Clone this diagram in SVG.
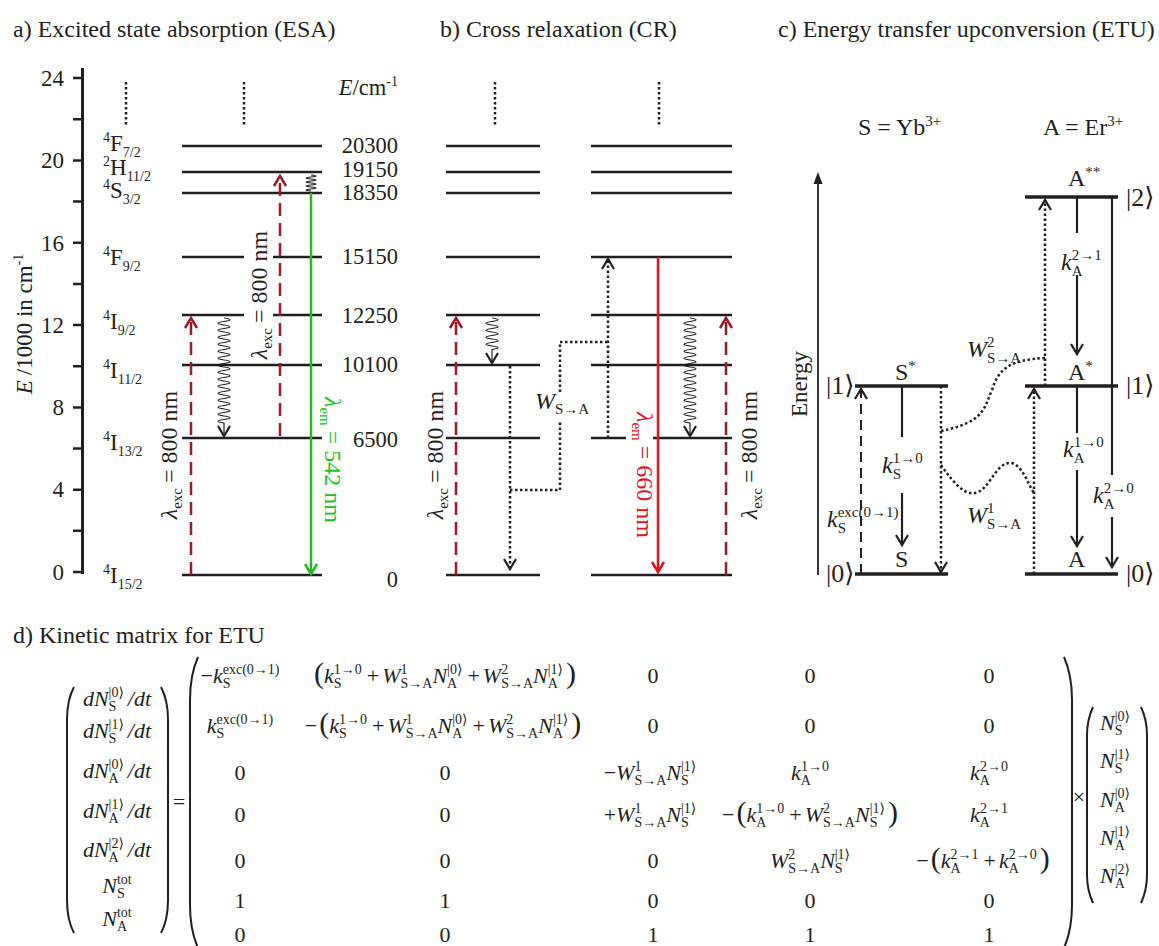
<svg xmlns="http://www.w3.org/2000/svg" width="1159" height="946" viewBox="0 0 1159 946">
<style>
text{font-family:"Liberation Serif","DejaVu Serif",serif;fill:#231F20}
.i{font-style:italic}
.gr{fill:#1FBF1F}
.rd{fill:#E3101F}
.m{font-size:22px}
.ms{font-size:14px}
.p{font-size:30px}
.lv{stroke:#231F20;stroke-width:2.6;fill:none}
.lc{stroke:#231F20;stroke-width:3.5;fill:none}
.ax{stroke:#231F20;stroke-width:3;fill:none}
.tk{stroke:#231F20;stroke-width:2.5;fill:none}
.dr{stroke:#9A1B2A;stroke-width:2.5;stroke-dasharray:13 7;fill:none}
.dk{stroke:#231F20;stroke-width:2;stroke-dasharray:10 6;fill:none}
.dt{stroke:#231F20;stroke-width:2.5;stroke-dasharray:2.5 2.5;fill:none}
.sl{stroke:#231F20;stroke-width:2.2;fill:none}
.wv{stroke:#231F20;stroke-width:1.2;fill:none}
.br{stroke:#231F20;stroke-width:2;fill:none}
</style>
<defs>
<marker id="mk" markerUnits="userSpaceOnUse" orient="auto" overflow="visible"><path d="M-10,-6L0,0L-10,6" fill="none" stroke="#231F20" stroke-width="2.2"/></marker>
<marker id="mdr" markerUnits="userSpaceOnUse" orient="auto" overflow="visible"><path d="M-10,-6L0,0L-10,6" fill="none" stroke="#9A1B2A" stroke-width="2.5"/></marker>
<marker id="mg" markerUnits="userSpaceOnUse" orient="auto" overflow="visible"><path d="M-10,-6L0,0L-10,6" fill="none" stroke="#1FBF1F" stroke-width="2.5"/></marker>
<marker id="mr" markerUnits="userSpaceOnUse" orient="auto" overflow="visible"><path d="M-10,-6L0,0L-10,6" fill="none" stroke="#E3101F" stroke-width="2.5"/></marker>
</defs>

<g id="titles" font-size="24">
<text x="13" y="37" font-size="24">a) Excited state absorption (ESA)</text>
<text x="440" y="37" font-size="24">b) Cross relaxation (CR)</text>
<text x="778" y="37" font-size="24">c) Energy transfer upconversion (ETU)</text>
<text x="13" y="643" font-size="24">d) Kinetic matrix for ETU</text>
</g>

<!-- Panel a -->
<g id="axis-a">
<path class="ax" d="M82.5,68V574"/>
<path class="tk" d="M73,572H82M73,530.8H82M73,489.7H82M73,448.5H82M73,407.4H82M73,366.2H82M73,325H82M73,283.9H82M73,242.7H82M73,201.6H82M73,160.4H82M73,119.2H82M73,78.1H82"/>
<g font-size="23" text-anchor="end">
<text x="64" y="86">24</text><text x="64" y="168">20</text><text x="64" y="251">16</text><text x="64" y="333">12</text><text x="64" y="415">8</text><text x="64" y="497">4</text><text x="64" y="580">0</text>
</g>
<text transform="translate(32,324) rotate(-90)" text-anchor="middle" font-size="23"><tspan class="i">E</tspan><tspan dx="5">/1000 in cm</tspan><tspan font-size="14" dy="-9">-1</tspan></text>
</g>

<g id="levels-a">
<path class="lv" d="M182,146H322M182,172H322M182,193H322M182,257H322M182,315H322M182,365H322M182,438H322M182,575H322"/>
<path class="dt" d="M126,82V125M244,82V125"/>
</g>
<g id="labels-a" font-size="23">
<text x="103" y="151"><tspan font-size="14" dy="-9">4</tspan><tspan dy="9">F</tspan><tspan font-size="14" dy="6">7/2</tspan></text>
<text x="103" y="175"><tspan font-size="14" dy="-9">2</tspan><tspan dy="9">H</tspan><tspan font-size="14" dy="6">11/2</tspan></text>
<text x="103" y="198"><tspan font-size="14" dy="-9">4</tspan><tspan dy="9">S</tspan><tspan font-size="14" dy="6">3/2</tspan></text>
<text x="103" y="265"><tspan font-size="14" dy="-9">4</tspan><tspan dy="9">F</tspan><tspan font-size="14" dy="6">9/2</tspan></text>
<text x="103" y="329"><tspan font-size="14" dy="-9">4</tspan><tspan dy="9">I</tspan><tspan font-size="14" dy="6">9/2</tspan></text>
<text x="103" y="378"><tspan font-size="14" dy="-9">4</tspan><tspan dy="9">I</tspan><tspan font-size="14" dy="6">11/2</tspan></text>
<text x="103" y="450"><tspan font-size="14" dy="-9">4</tspan><tspan dy="9">I</tspan><tspan font-size="14" dy="6">13/2</tspan></text>
<text x="103" y="583"><tspan font-size="14" dy="-9">4</tspan><tspan dy="9">I</tspan><tspan font-size="14" dy="6">15/2</tspan></text>
<g text-anchor="end" font-size="22.5">
<text x="398" y="95"><tspan class="i">E</tspan><tspan>/cm</tspan><tspan font-size="14" dy="-9">-1</tspan></text>
<text x="398" y="153">20300</text>
<text x="398" y="177">19150</text>
<text x="398" y="200">18350</text>
<text x="398" y="264">15150</text>
<text x="398" y="323">12250</text>
<text x="398" y="372">10100</text>
<text x="398" y="447">6500</text>
<text x="398" y="587">0</text>
</g>
</g>
<g id="connectors-a">
<path class="dr" d="M191,575V318" marker-end="url(#mdr)"/>
<path class="dr" d="M280,436V176" marker-end="url(#mdr)"/>
<path d="M311,193V574" stroke="#1FBF1F" stroke-width="2.5" fill="none" marker-end="url(#mg)"/>
<path class="wv" d="M224,318q12,1.75 0,3.5t0,3.5t0,3.5t0,3.5t0,3.5t0,3.5t0,3.5t0,3.5t0,3.5t0,3.5t0,3.5t0,3.5t0,3.5t0,3.5t0,3.5t0,3.5t0,3.5t0,3.5t0,3.5t0,3.5t0,3.5t0,3.5t0,3.5t0,3.5t0,3.5t0,3.5t0,3.5t0,3.5t0,3.5t0,3.5V436" marker-end="url(#mk)"/>
<path class="wv" d="M311,175q10,1 0,2t0,2t0,2t0,2t0,2t0,2t0,2t0,2"/>
</g>
<g id="wlabels-a">
<rect x="244" y="227" width="29" height="136" fill="#fff"/>
<text transform="translate(177,455) rotate(-90)" text-anchor="middle" font-size="24"><tspan class="i">λ</tspan><tspan font-size="15" dy="5">exc</tspan><tspan dx="5" dy="-5">= 800 nm</tspan></text>
<text transform="translate(267,295) rotate(-90)" text-anchor="middle" font-size="24"><tspan class="i">λ</tspan><tspan font-size="15" dy="5">exc</tspan><tspan dx="5" dy="-5">= 800 nm</tspan></text>
<text class="gr" transform="translate(325,460) rotate(90)" text-anchor="middle" font-size="24"><tspan class="i">λ</tspan><tspan font-size="15" dy="5">em</tspan><tspan dx="5" dy="-5">= 542 nm</tspan></text>
</g>

<!-- Panel b -->
<g id="levels-b">
<path class="lv" d="M446,146H540M446,172H540M446,193H540M446,257H540M446,315H540M446,365H540M446,438H540M446,575H540"/>
<path class="lv" d="M591,146H732M591,172H732M591,193H732M591,257H732M591,315H732M591,365H732M591,438H626M653,438H732M591,575H732"/>
<path class="dt" d="M495,82V125M659,82V125"/>
</g>
<g id="connectors-b">
<path class="dr" d="M456,575V318" marker-end="url(#mdr)"/>
<path class="dr" d="M726,575V318" marker-end="url(#mdr)"/>
<path class="wv" d="M492,318q12,1.75 0,3.5t0,3.5t0,3.5t0,3.5t0,3.5t0,3.5t0,3.5t0,3.5t0,3.5V363" marker-end="url(#mk)"/>
<path class="wv" d="M690,318q12,1.75 0,3.5t0,3.5t0,3.5t0,3.5t0,3.5t0,3.5t0,3.5t0,3.5t0,3.5t0,3.5t0,3.5t0,3.5t0,3.5t0,3.5t0,3.5t0,3.5t0,3.5t0,3.5t0,3.5t0,3.5t0,3.5t0,3.5t0,3.5t0,3.5t0,3.5t0,3.5t0,3.5t0,3.5t0,3.5t0,3.5V436" marker-end="url(#mk)"/>
<path class="dt" d="M510,366V569" marker-end="url(#mk)"/>
<path class="dt" d="M510,490H560V421M560,392V342H608"/>
<path class="dt" d="M608,438V259" marker-end="url(#mk)"/>
<path d="M658,257V572" stroke="#E3101F" stroke-width="2.5" fill="none" marker-end="url(#mr)"/>
</g>
<g id="labels-b">
<text x="535" y="409" font-size="24"><tspan class="i">W</tspan><tspan font-size="15" dy="5">S→A</tspan></text>
<text transform="translate(443,455) rotate(-90)" text-anchor="middle" font-size="24"><tspan class="i">λ</tspan><tspan font-size="15" dy="5">exc</tspan><tspan dx="5" dy="-5">= 800 nm</tspan></text>
<text transform="translate(757,455) rotate(-90)" text-anchor="middle" font-size="24"><tspan class="i">λ</tspan><tspan font-size="15" dy="5">exc</tspan><tspan dx="5" dy="-5">= 800 nm</tspan></text>
<text class="rd" transform="translate(637,475) rotate(90)" text-anchor="middle" font-size="24"><tspan class="i">λ</tspan><tspan font-size="15" dy="5">em</tspan><tspan dx="5" dy="-5">= 660 nm</tspan></text>
</g>

<!-- Panel c -->
<g id="header-c" font-size="24">
<text x="858" y="135">S = Yb<tspan font-size="15" dy="-9">3+</tspan></text>
<text x="1043" y="135">A = Er<tspan font-size="15" dy="-9">3+</tspan></text>
<path d="M818,575V182" stroke="#231F20" stroke-width="1.8" fill="none"/>
<polygon points="818,172 813.5,184 822.5,184" fill="#231F20"/>
<text transform="translate(807,384) rotate(-90)" text-anchor="middle" font-size="23">Energy</text>
</g>
<g id="node-S1"><path class="lc" d="M855,386H948"/><text x="895" y="380" font-size="24">S<tspan font-size="15" dy="-9">*</tspan></text><text x="826" y="394" font-size="26">|1⟩</text></g>
<g id="node-S0"><path class="lc" d="M855,574H948"/><text x="895" y="567" font-size="24">S</text><text x="826" y="582" font-size="26">|0⟩</text></g>
<g id="node-A2"><path class="lc" d="M1025,197H1118"/><text x="1068" y="186" font-size="24">A<tspan font-size="15" dy="-9">**</tspan></text><text x="1126" y="206" font-size="26">|2⟩</text></g>
<g id="node-A1"><path class="lc" d="M1025,386H1118"/><text x="1068" y="380" font-size="24">A<tspan font-size="15" dy="-9">*</tspan></text><text x="1126" y="394" font-size="26">|1⟩</text></g>
<g id="node-A0"><path class="lc" d="M1025,574H1118"/><text x="1068" y="567" font-size="24">A</text><text x="1126" y="582" font-size="26">|0⟩</text></g>
<g id="connectors-c">
<path class="dk" d="M861,574V389" marker-end="url(#mk)"/>
<path class="sl" d="M902,386V437M902,493V545" marker-end="url(#mk)"/>
<path class="dt" d="M941,386V572" marker-end="url(#mk)"/>
<path class="dt" d="M941,431C985,422 984,408 992,390C999,368 1010,360 1045,358"/>
<path class="dt" d="M1045,386V200" marker-end="url(#mk)"/>
<path class="dt" d="M941,465C955,485 965,495 975,493C990,490 995,463 1010,463C1022,463 1028,485 1034,493"/>
<path class="dt" d="M1034,574V389" marker-end="url(#mk)"/>
<path class="sl" d="M1077,197V233M1077,275V354" marker-end="url(#mk)"/>
<path class="sl" d="M1077,386V433M1077,470V546" marker-end="url(#mk)"/>
<path class="sl" d="M1112,197V475M1112,517V567" marker-end="url(#mk)"/>
</g>
<g id="labels-c" font-size="24">
<text x="882" y="473"><tspan class="i">k</tspan><tspan font-size="15" dy="6">S</tspan><tspan font-size="15" dx="-8.3" dy="-16">1→0</tspan></text>
<text x="827" y="527"><tspan class="i">k</tspan><tspan font-size="15" dy="6">S</tspan><tspan font-size="15" dx="-8.3" dy="-16">exc(0→1)</tspan></text>
<text x="967" y="357"><tspan class="i">W</tspan><tspan font-size="15" dy="-10">2</tspan><tspan font-size="15" dx="-7.5" dy="16">S→A</tspan></text>
<text x="967" y="523"><tspan class="i">W</tspan><tspan font-size="15" dy="-10">1</tspan><tspan font-size="15" dx="-7.5" dy="16">S→A</tspan></text>
<text x="1061" y="270"><tspan class="i">k</tspan><tspan font-size="15" dy="6">A</tspan><tspan font-size="15" dx="-10.8" dy="-16">2→1</tspan></text>
<text x="1063" y="457"><tspan class="i">k</tspan><tspan font-size="15" dy="6">A</tspan><tspan font-size="15" dx="-10.8" dy="-16">1→0</tspan></text>
<text x="1093" y="503"><tspan class="i">k</tspan><tspan font-size="15" dy="6">A</tspan><tspan font-size="15" dx="-10.8" dy="-16">2→0</tspan></text>
</g>

<!-- Panel d -->
<g id="delimiters">
<path class="br" d="M74,687Q67,700 67,720V900Q67,920 74,933"/>
<path class="br" d="M161,687Q168,700 168,720V900Q168,920 161,933"/>
<path class="br" stroke-width="2.5" d="M198,657Q190,675 190,700V905Q190,930 198,948"/>
<path class="br" stroke-width="2.5" d="M1064,657Q1072,675 1072,700V905Q1072,930 1064,948"/>
<path class="br" d="M1093,707Q1087,720 1087,735V875Q1087,890 1093,903"/>
<path class="br" d="M1141,707Q1147,720 1147,735V875Q1147,890 1141,903"/>
</g>
<g id="vec-left" class="m" text-anchor="middle">
<text x="117" y="706" class="m"><tspan class="i">dN</tspan><tspan class="ms" dy="5">S</tspan><tspan class="ms" dx="-7.8" dy="-14">|0⟩</tspan><tspan class="i" dx="4" dy="9">/dt</tspan></text>
<text x="117" y="738" class="m"><tspan class="i">dN</tspan><tspan class="ms" dy="5">S</tspan><tspan class="ms" dx="-7.8" dy="-14">|1⟩</tspan><tspan class="i" dx="4" dy="9">/dt</tspan></text>
<text x="117" y="778" class="m"><tspan class="i">dN</tspan><tspan class="ms" dy="5">A</tspan><tspan class="ms" dx="-10.1" dy="-14">|0⟩</tspan><tspan class="i" dx="4" dy="9">/dt</tspan></text>
<text x="117" y="818" class="m"><tspan class="i">dN</tspan><tspan class="ms" dy="5">A</tspan><tspan class="ms" dx="-10.1" dy="-14">|1⟩</tspan><tspan class="i" dx="4" dy="9">/dt</tspan></text>
<text x="117" y="857" class="m"><tspan class="i">dN</tspan><tspan class="ms" dy="5">A</tspan><tspan class="ms" dx="-10.1" dy="-14">|2⟩</tspan><tspan class="i" dx="4" dy="9">/dt</tspan></text>
<text x="117" y="893" class="m"><tspan class="i">N</tspan><tspan class="ms" dy="5">S</tspan><tspan class="ms" dx="-7.8" dy="-14">tot</tspan></text>
<text x="117" y="926" class="m"><tspan class="i">N</tspan><tspan class="ms" dy="5">A</tspan><tspan class="ms" dx="-10.1" dy="-14">tot</tspan></text>
</g>
<g id="ops" class="m" text-anchor="middle">
<text x="179" y="809" class="m">=</text>
<text x="1079" y="804" class="m">×</text>
</g>
<g id="matrix" text-anchor="middle">
<text x="240" y="683" class="m"><tspan>−</tspan><tspan class="i">k</tspan><tspan class="ms" dy="5">S</tspan><tspan class="ms" dx="-7.8" dy="-14">exc(0→1)</tspan></text>
<text x="445" y="683" class="m"><tspan class="p">(</tspan><tspan class="i">k</tspan><tspan class="ms" dy="5">S</tspan><tspan class="ms" dx="-7.8" dy="-14">1→0</tspan><tspan dx="5" dy="9">+</tspan><tspan class="i" dx="3">W</tspan><tspan class="ms" dy="-9">1</tspan><tspan class="ms" dx="-7" dy="14">S→A</tspan><tspan class="i" dy="-5">N</tspan><tspan class="ms" dy="5">A</tspan><tspan class="ms" dx="-10.1" dy="-14">|0⟩</tspan><tspan dx="5" dy="9">+</tspan><tspan class="i" dx="3">W</tspan><tspan class="ms" dy="-9">2</tspan><tspan class="ms" dx="-7" dy="14">S→A</tspan><tspan class="i" dy="-5">N</tspan><tspan class="ms" dy="5">A</tspan><tspan class="ms" dx="-10.1" dy="-14">|1⟩</tspan><tspan class="p" dx="3" dy="9">)</tspan></text>
<text x="653" y="683" class="m">0</text><text x="810" y="683" class="m">0</text><text x="989" y="683" class="m">0</text>

<text x="240" y="733" class="m"><tspan class="i">k</tspan><tspan class="ms" dy="5">S</tspan><tspan class="ms" dx="-7.8" dy="-14">exc(0→1)</tspan></text>
<text x="443" y="733" class="m"><tspan>−</tspan><tspan class="p" dx="2">(</tspan><tspan class="i">k</tspan><tspan class="ms" dy="5">S</tspan><tspan class="ms" dx="-7.8" dy="-14">1→0</tspan><tspan dx="5" dy="9">+</tspan><tspan class="i" dx="3">W</tspan><tspan class="ms" dy="-9">1</tspan><tspan class="ms" dx="-7" dy="14">S→A</tspan><tspan class="i" dy="-5">N</tspan><tspan class="ms" dy="5">A</tspan><tspan class="ms" dx="-10.1" dy="-14">|0⟩</tspan><tspan dx="5" dy="9">+</tspan><tspan class="i" dx="3">W</tspan><tspan class="ms" dy="-9">2</tspan><tspan class="ms" dx="-7" dy="14">S→A</tspan><tspan class="i" dy="-5">N</tspan><tspan class="ms" dy="5">A</tspan><tspan class="ms" dx="-10.1" dy="-14">|1⟩</tspan><tspan class="p" dx="3" dy="9">)</tspan></text>
<text x="653" y="733" class="m">0</text><text x="810" y="733" class="m">0</text><text x="989" y="733" class="m">0</text>

<text x="240" y="780" class="m">0</text><text x="445" y="780" class="m">0</text>
<text x="650" y="780" class="m"><tspan>−</tspan><tspan class="i">W</tspan><tspan class="ms" dy="-9">1</tspan><tspan class="ms" dx="-7" dy="14">S→A</tspan><tspan class="i" dy="-5">N</tspan><tspan class="ms" dy="5">S</tspan><tspan class="ms" dx="-7.8" dy="-14">|1⟩</tspan></text>
<text x="810" y="780" class="m"><tspan class="i">k</tspan><tspan class="ms" dy="5">A</tspan><tspan class="ms" dx="-10.1" dy="-14">1→0</tspan></text>
<text x="989" y="780" class="m"><tspan class="i">k</tspan><tspan class="ms" dy="5">A</tspan><tspan class="ms" dx="-10.1" dy="-14">2→0</tspan></text>

<text x="240" y="822" class="m">0</text><text x="445" y="822" class="m">0</text>
<text x="650" y="822" class="m"><tspan>+</tspan><tspan class="i">W</tspan><tspan class="ms" dy="-9">1</tspan><tspan class="ms" dx="-7" dy="14">S→A</tspan><tspan class="i" dy="-5">N</tspan><tspan class="ms" dy="5">S</tspan><tspan class="ms" dx="-7.8" dy="-14">|1⟩</tspan></text>
<text x="810" y="822" class="m"><tspan>−</tspan><tspan class="p" dx="2">(</tspan><tspan class="i">k</tspan><tspan class="ms" dy="5">A</tspan><tspan class="ms" dx="-10.1" dy="-14">1→0</tspan><tspan dx="5" dy="9">+</tspan><tspan class="i" dx="3">W</tspan><tspan class="ms" dy="-9">2</tspan><tspan class="ms" dx="-7" dy="14">S→A</tspan><tspan class="i" dy="-5">N</tspan><tspan class="ms" dy="5">S</tspan><tspan class="ms" dx="-7.8" dy="-14">|1⟩</tspan><tspan class="p" dx="3" dy="9">)</tspan></text>
<text x="989" y="822" class="m"><tspan class="i">k</tspan><tspan class="ms" dy="5">A</tspan><tspan class="ms" dx="-10.1" dy="-14">2→1</tspan></text>

<text x="240" y="868" class="m">0</text><text x="445" y="868" class="m">0</text><text x="653" y="868" class="m">0</text>
<text x="810" y="868" class="m"><tspan class="i">W</tspan><tspan class="ms" dy="-9">2</tspan><tspan class="ms" dx="-7" dy="14">S→A</tspan><tspan class="i" dy="-5">N</tspan><tspan class="ms" dy="5">S</tspan><tspan class="ms" dx="-7.8" dy="-14">|1⟩</tspan></text>
<text x="983" y="868" class="m"><tspan>−</tspan><tspan class="p" dx="2">(</tspan><tspan class="i">k</tspan><tspan class="ms" dy="5">A</tspan><tspan class="ms" dx="-10.1" dy="-14">2→1</tspan><tspan dx="5" dy="9">+</tspan><tspan class="i" dx="3">k</tspan><tspan class="ms" dy="5">A</tspan><tspan class="ms" dx="-10.1" dy="-14">2→0</tspan><tspan class="p" dx="3" dy="9">)</tspan></text>

<text x="240" y="908" class="m">1</text><text x="445" y="908" class="m">1</text><text x="653" y="908" class="m">0</text><text x="810" y="908" class="m">0</text><text x="989" y="908" class="m">0</text>
<text x="240" y="942" class="m">0</text><text x="445" y="942" class="m">0</text><text x="653" y="942" class="m">1</text><text x="810" y="942" class="m">1</text><text x="989" y="942" class="m">1</text>
</g>
<g id="vec-right" text-anchor="middle">
<text x="1115" y="730" class="m"><tspan class="i">N</tspan><tspan class="ms" dy="5">S</tspan><tspan class="ms" dx="-7.8" dy="-14">|0⟩</tspan></text>
<text x="1115" y="768" class="m"><tspan class="i">N</tspan><tspan class="ms" dy="5">S</tspan><tspan class="ms" dx="-7.8" dy="-14">|1⟩</tspan></text>
<text x="1115" y="807" class="m"><tspan class="i">N</tspan><tspan class="ms" dy="5">A</tspan><tspan class="ms" dx="-10.1" dy="-14">|0⟩</tspan></text>
<text x="1115" y="845" class="m"><tspan class="i">N</tspan><tspan class="ms" dy="5">A</tspan><tspan class="ms" dx="-10.1" dy="-14">|1⟩</tspan></text>
<text x="1115" y="883" class="m"><tspan class="i">N</tspan><tspan class="ms" dy="5">A</tspan><tspan class="ms" dx="-10.1" dy="-14">|2⟩</tspan></text>
</g>
</svg>
